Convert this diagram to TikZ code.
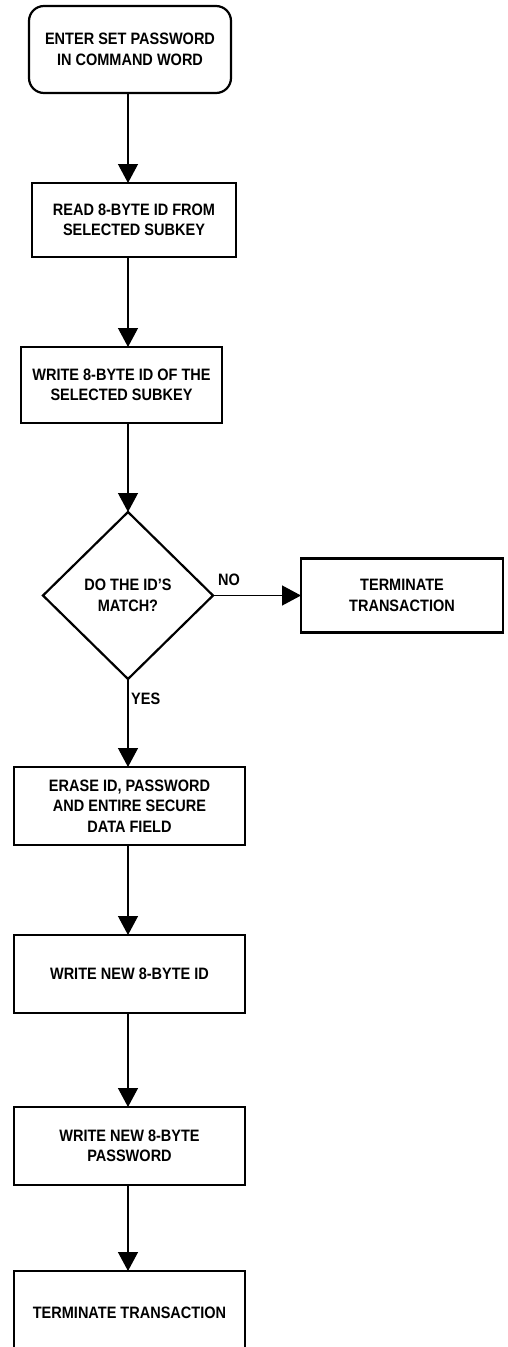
\documentclass[tikz,border=0pt]{standalone}
\usepackage{fontspec}
\setmainfont[FakeStretch=0.88]{Liberation Sans}
\usetikzlibrary{shapes.geometric,arrows.meta}
\newcommand\flowfont{\fontsize{16.5}{20.5}\selectfont\bfseries}

\begin{document}
\begin{tikzpicture}[x=1pt,y=-1pt,
  shape base/.style={draw, line width=2.2pt, inner sep=0pt, outer sep=0pt,
                     align=center, font=\flowfont},
  startbox/.style={shape base, rectangle, rounded corners=15pt},
  procbox/.style={shape base, rectangle},
  decision/.style={shape base, diamond},
  flowarrow/.style={line width=1.3pt, -{Triangle[length=19pt,width=20pt]}},
  branchtext/.style={font=\flowfont, inner sep=0pt}
]
\useasboundingbox (0,0) rectangle (508,1347);

% vertical spine of the main flow
\coordinate (spine) at (128,0);

\node[startbox, minimum width=202pt, minimum height=87pt] (start) at (130,49.5)
  {ENTER SET PASSWORD\\IN COMMAND WORD};
\node[procbox, minimum width=204pt, minimum height=74pt] (readid) at (134,220)
  {READ 8-BYTE ID FROM\\SELECTED SUBKEY};
\node[procbox, minimum width=201pt, minimum height=76pt] (writeid) at (121.5,385)
  {WRITE 8-BYTE ID OF THE\\SELECTED SUBKEY};
\node[decision, minimum width=170pt, minimum height=167pt] (match) at (128,595.5)
  {DO THE ID'S\\MATCH?};
\node[procbox, minimum width=202pt, minimum height=74pt] (termA) at (402,595.5)
  {TERMINATE\\TRANSACTION};
\node[procbox, minimum width=231pt, minimum height=78pt] (erase) at (129.5,806)
  {ERASE ID, PASSWORD\\AND ENTIRE SECURE\\DATA FIELD};
\node[procbox, minimum width=231pt, minimum height=78pt] (newid) at (129.5,974)
  {WRITE NEW 8-BYTE ID};
\node[procbox, minimum width=231pt, minimum height=78pt] (newpw) at (129.5,1146)
  {WRITE NEW 8-BYTE\\PASSWORD};
\node[procbox, minimum width=231pt, minimum height=84pt] (termB) at (129.5,1313)
  {TERMINATE TRANSACTION};

% branch labels
\node[branchtext] (nolabel) at (229,580) {NO};
\node[branchtext, anchor=west] (yeslabel) at (131,699) {YES};

% connectors
\draw[flowarrow] (start.south -| spine) -- (readid.north -| spine);
\draw[flowarrow] (readid.south -| spine) -- (writeid.north -| spine);
\draw[flowarrow] (writeid.south -| spine) -- (match.north);
\draw[flowarrow] (match.east) -- (match.east -| termA.west);
\draw[flowarrow] (match.south) -- (erase.north -| match.south);
\draw[flowarrow] (erase.south -| match.south) -- (newid.north -| match.south);
\draw[flowarrow] (newid.south -| match.south) -- (newpw.north -| match.south);
\draw[flowarrow] (newpw.south -| match.south) -- (termB.north -| match.south);
\end{tikzpicture}
\end{document}
